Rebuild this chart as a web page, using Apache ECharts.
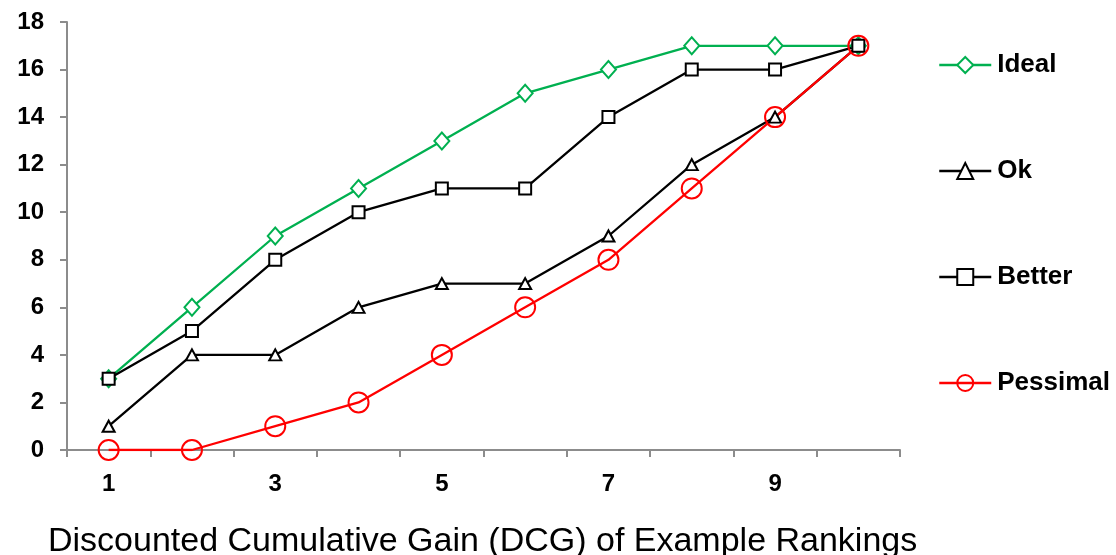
<!DOCTYPE html>
<html>
<head>
<meta charset="utf-8">
<script src="https://cdn.jsdelivr.net/npm/echarts@6/dist/echarts.min.js"></script>
<style>html,body{margin:0;padding:0;background:#fff;}#c{width:1116px;height:555px;}</style>
</head>
<body>
<div id="c"></div>
<script>
const categories = ['1','2','3','4','5','6','7','8','9','10'];
const ideal    = [3, 6, 9, 11, 13, 15, 16, 17, 17, 17];
const ok       = [1, 4, 4, 6, 7, 7, 9, 12, 14, 17];
const better   = [3, 5, 8, 10, 11, 11, 14, 16, 16, 17];
const pessimal = [0, 0, 1, 2, 4, 6, 8, 11, 14, 17];
const titleText = 'Discounted Cumulative Gain (DCG) of Example Rankings';

const FONT = '"Liberation Sans", Arial, sans-serif';
const axisGray = '#8c8c8c';

function mkSeries(name, data, color, symbol, size, fill) {
  return {
    name, type: 'line', data, symbol, symbolSize: size,
    showAllSymbol: true,
    lineStyle: { color, width: 2.3 },
    itemStyle: { color: fill, borderColor: color, borderWidth: 2 },
    emphasis: { disabled: true },
    animation: false
  };
}

const chart = echarts.init(document.getElementById('c'), null, { renderer: 'canvas' });
chart.setOption({
  backgroundColor: '#fff',
  animation: false,
  title: {
    text: titleText,
    left: 43, top: 520,
    textStyle: { fontFamily: FONT, fontSize: 34, fontWeight: 'normal', color: '#000' }
  },
  legend: {
    orient: 'vertical',
    left: 938, top: 50, padding: 0,
    itemWidth: 52, itemHeight: 20, itemGap: 76,
    lineStyle: { width: 2.5 },
    textStyle: { fontFamily: FONT, fontSize: 26, fontWeight: 'bold', color: '#000', lineHeight: 30, padding: [0,0,0,1] },
    data: ['Ideal', 'Ok', 'Better', 'Pessimal']
  },
  grid: { left: 67, right: 216, top: 22, bottom: 105, containLabel: false },
  xAxis: {
    type: 'category', data: categories, boundaryGap: true,
    axisLine: { lineStyle: { color: axisGray, width: 2 } },
    axisTick: { show: true, interval: 0, length: 7, lineStyle: { color: axisGray, width: 2 } },
    axisLabel: { interval: 1, margin: 22, fontFamily: FONT, fontSize: 24, fontWeight: 'bold', color: '#000' },
    splitLine: { show: false }
  },
  yAxis: {
    type: 'value', min: 0, max: 18, interval: 2,
    axisLine: { show: true, lineStyle: { color: axisGray, width: 2 } },
    axisTick: { show: true, length: 7, lineStyle: { color: axisGray, width: 2 } },
    axisLabel: { margin: 23, fontFamily: FONT, fontSize: 24, fontWeight: 'bold', color: '#000' },
    splitLine: { show: false }
  },
  series: [
    mkSeries('Ideal', ideal, '#00B050', 'diamond', [15, 17], '#fff'),
    mkSeries('Ok', ok, '#000000', 'triangle', [12, 11], '#fff'),
    mkSeries('Better', better, '#000000', 'rect', 12, '#fff'),
    mkSeries('Pessimal', pessimal, '#FF0000', 'circle', 20, 'rgba(255,255,255,0)')
  ]
});
</script>
</body>
</html>
